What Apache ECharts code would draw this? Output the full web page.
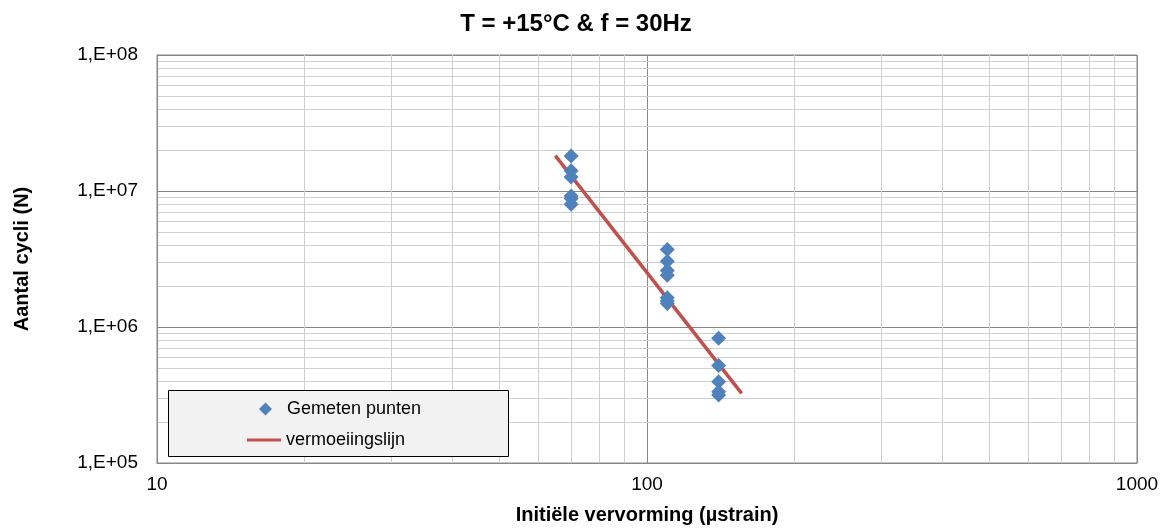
<!DOCTYPE html>
<html><head><meta charset="utf-8">
<script src="https://cdn.jsdelivr.net/npm/echarts@6/dist/echarts.min.js"></script>
<style>html,body{margin:0;padding:0;background:#fff}#c{width:1160px;height:529px}</style>
</head><body><div id="c"></div>
<script>
// Data
const strainPoints = [70,70,70,70,70,70, 110,110,110,110,110,110,110, 140,140,140,140,140];
const cyclesPoints = [1.81e7,1.41e7,1.27e7,9.2e6,8.8e6,8.0e6, 3.72e6,3.05e6,2.6e6,2.4e6,1.64e6,1.55e6,1.49e6, 8.26e5,5.2e5,3.96e5,3.34e5,3.16e5];
const fatigueStrain = [65, 156];
const fatigueCycles = [1.82e7, 3.25e5];
const xDecades = [10, 100];
const yDecades = [1e5, 1e6, 1e7];
const minorMultipliers = [2,3,4,5,6,7,8,9];
const seriesNames = ['Gemeten punten', 'vermoeiingslijn'];

const FONT = 'Liberation Sans, Arial, sans-serif';
const minorLines = [];
xDecades.forEach(d => minorMultipliers.forEach(m => minorLines.push({xAxis: d*m})));
yDecades.forEach(d => minorMultipliers.forEach(m => minorLines.push({yAxis: d*m})));

const chart = echarts.init(document.getElementById('c'), null, {renderer: 'canvas'});
chart.setOption({
  animation: false,
  backgroundColor: '#fff',
  title: {
    text: 'T = +15°C & f = 30Hz',
    left: 571, top: 7, textAlign: 'center',
    textStyle: {fontFamily: FONT, fontSize: 24, fontWeight: 'bold', color: '#000'}
  },
  grid: {left: 157, right: 23, top: 55, bottom: 66, outerBoundsMode: 'none', containLabel: false,
    show: true, borderColor: '#878787', borderWidth: 1, backgroundColor: 'transparent'},
  xAxis: {
    type: 'log', logBase: 10, min: 10, max: 1000,
    name: 'Initiële vervorming (µstrain)', nameLocation: 'middle', nameGap: 42,
    nameTextStyle: {fontFamily: FONT, fontSize: 20, fontWeight: 'bold', color: '#000'},
    axisLine: {show: true, lineStyle: {color: '#878787'}},
    axisTick: {show: false},
    axisLabel: {fontFamily: FONT, fontSize: 19, color: '#000', margin: 12, formatter: v => String(v)},
    splitLine: {show: true, lineStyle: {color: '#878787', width: 1}}
  },
  yAxis: {
    type: 'log', logBase: 10, min: 1e5, max: 1e8,
    name: 'Aantal cycli (N)', nameLocation: 'middle', nameGap: 125, nameRotate: 90,
    nameTextStyle: {fontFamily: FONT, fontSize: 20, fontWeight: 'bold', color: '#000'},
    axisLine: {show: true, lineStyle: {color: '#878787'}},
    axisTick: {show: false},
    axisLabel: {fontFamily: FONT, fontSize: 19, color: '#000', margin: 19,
      formatter: v => '1,E+' + String(Math.round(Math.log10(v))).padStart(2, '0')},
    splitLine: {show: true, lineStyle: {color: '#878787', width: 1}}
  },
  legend: [
    {data: [{name: seriesNames[0], icon: 'diamond'}], left: 254, top: 395, itemWidth: 13, itemHeight: 13, z: 5,
     textStyle: {fontFamily: FONT, fontSize: 18, color: '#000', padding: [0,0,0,10]}},
    {data: [{name: seriesNames[1], icon: 'rect'}], left: 242, top: 426, itemWidth: 34, itemHeight: 3, z: 5,
     itemStyle: {color: '#c0504d'},
     textStyle: {fontFamily: FONT, fontSize: 18, color: '#000'}}
  ],
  graphic: [{type: 'rect', z: 3, shape: {x: 168.5, y: 390.5, width: 340, height: 66},
    style: {fill: '#f2f2f2', stroke: '#000', lineWidth: 1}}],
  series: [
    {name: 'grid-minor', type: 'scatter', data: [], z: 0, silent: true,
     markLine: {z: 0, silent: true, symbol: ['none','none'], label: {show: false}, animation: false,
       lineStyle: {color: '#cfcfcf', width: 1, type: 'solid'}, data: minorLines}},
    {name: seriesNames[1], type: 'line', z: 2, showSymbol: false, symbol: 'none',
     lineStyle: {color: '#c0504d', width: 3.5}, itemStyle: {color: '#c0504d'},
     data: fatigueStrain.map((x, i) => [x, fatigueCycles[i]])},
    {name: seriesNames[0], type: 'scatter', z: 3, symbol: 'diamond', symbolSize: 15,
     itemStyle: {color: '#4f81bd', opacity: 1},
     data: strainPoints.map((x, i) => [x, cyclesPoints[i]])}
  ]
});
</script></body></html>
